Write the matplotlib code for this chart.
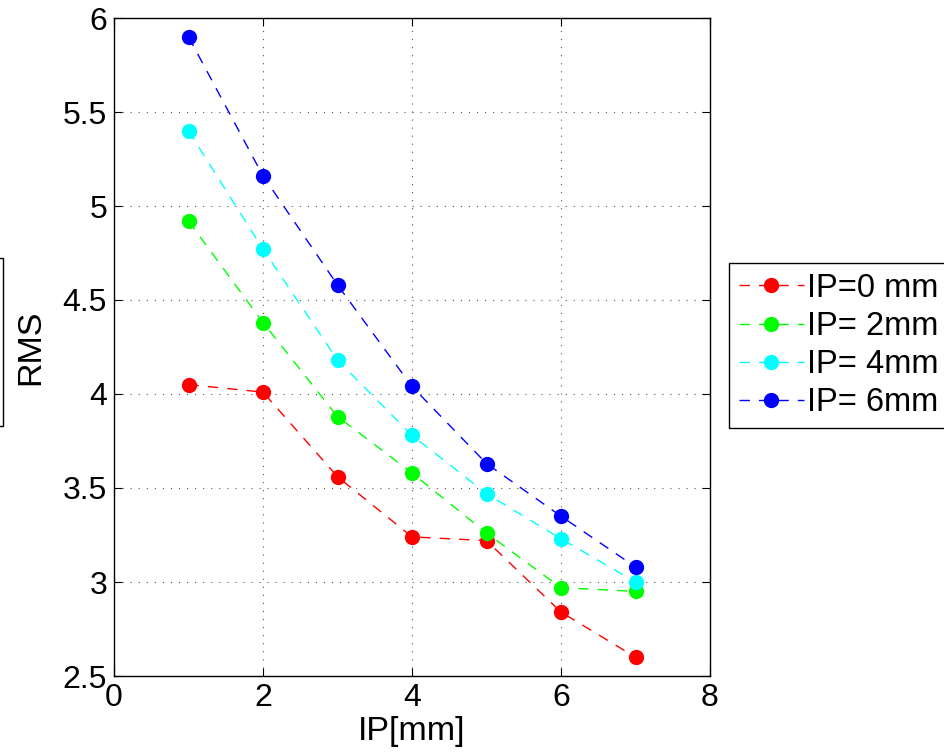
import numpy as np
import matplotlib
matplotlib.use("Agg")
import matplotlib.pyplot as plt
from matplotlib.patches import Rectangle

plt.rcParams['font.family'] = ['Liberation Sans', 'DejaVu Sans']
plt.rcParams['lines.scale_dashes'] = False

# data
ip = [1, 2, 3, 4, 5, 6, 7]
rms_0mm = [4.05, 4.01, 3.56, 3.24, 3.22, 2.84, 2.60]
rms_2mm = [4.92, 4.38, 3.88, 3.58, 3.26, 2.97, 2.95]
rms_4mm = [5.40, 4.77, 4.18, 3.78, 3.47, 3.23, 3.00]
rms_6mm = [5.90, 5.16, 4.58, 4.04, 3.63, 3.35, 3.08]
labels = ['IP=0 mm', 'IP= 2mm', 'IP= 4mm', 'IP= 6mm']
colors = ['#ff0000', '#00ff00', '#00ffff', '#0000ff']

fig = plt.figure(figsize=(9.45, 7.54), dpi=100)
ax = fig.add_axes([114/945, 1 - 676/754, (710 - 114)/945, (676 - 18)/754])

for y, c, lab in zip([rms_0mm, rms_2mm, rms_4mm, rms_6mm], colors, labels):
    ax.plot(ip, y, '--o', color=c, lw=1.0, ms=10, dashes=(7.5, 6.5), label=lab)

ax.set_xlim(0, 8)
ax.set_ylim(2.5, 6)
ax.set_xticks(np.arange(0, 9, 2))
ax.set_yticks(np.arange(2.5, 6.01, 0.5))
ax.set_yticklabels(['2.5', '3', '3.5', '4', '4.5', '5', '5.5', '6'])
ax.grid(True, color='#555555', linestyle=(0, (0.8, 5)), linewidth=0.8)
ax.tick_params(direction='in', top=True, right=True, labelsize=23, length=6, pad=5)
for s in ax.spines.values():
    s.set_linewidth(1.0)

ax.set_xlabel('IP[mm]', fontsize=24.5, labelpad=2)
ax.set_ylabel('RMS', fontsize=24.5, labelpad=12)

leg = ax.legend(loc='upper left', bbox_to_anchor=(729/945, 1 - 263/754),
                bbox_transform=fig.transFigure, borderaxespad=0,
                fontsize=23.5, fancybox=False, framealpha=1, edgecolor='black',
                handlelength=2.0, handletextpad=0.1, borderpad=0.3, labelspacing=0.22)
leg.get_frame().set_linewidth(1.0)

# partial frame clipped at the left edge of the picture
fig.patches.append(Rectangle((-20/945, 1 - 426/754), 23/945, 168/754,
                             transform=fig.transFigure, fill=False,
                             edgecolor='black', lw=1.0))

fig.savefig('out.png', dpi=100)
